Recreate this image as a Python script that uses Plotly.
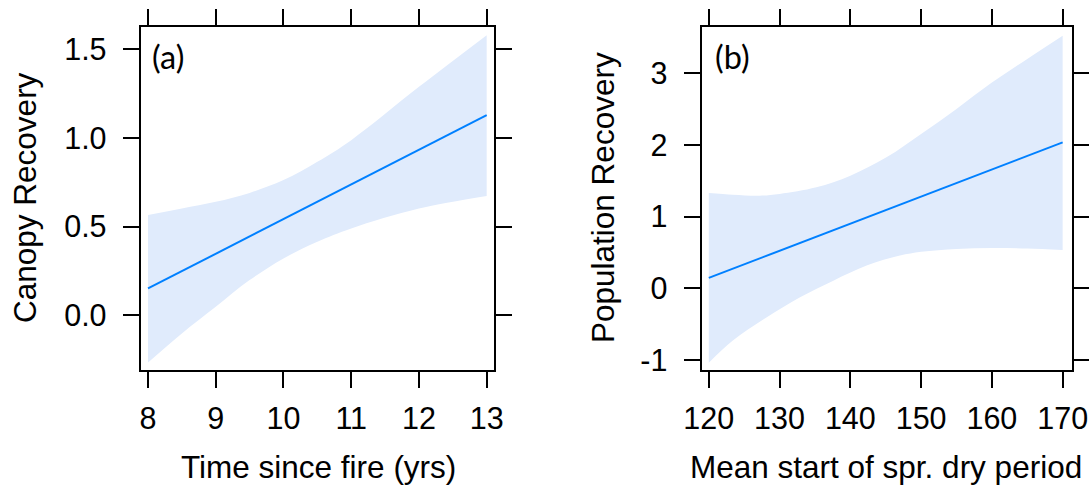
import plotly.graph_objects as go

# Panel (a): Canopy Recovery vs Time since fire
xa = [8, 8.5, 9, 9.5, 10, 10.5, 11, 12, 13]
a_upper = [0.565, 0.602, 0.640, 0.690, 0.762, 0.865, 0.987, 1.287, 1.578]
a_lower = [-0.265, -0.101, 0.049, 0.199, 0.321, 0.415, 0.490, 0.602, 0.673]
xa_fit = [8, 13]
a_fit = [0.152, 1.128]

# Panel (b): Population Recovery vs Mean start of spr. dry period
xb_up = [120, 123.4, 127.2, 130, 135.2, 140, 145.1, 150, 155, 160, 165, 170]
b_upper = [1.330, 1.307, 1.293, 1.316, 1.409, 1.572, 1.827, 2.153, 2.502, 2.870, 3.200, 3.524]
xb_lo = [120, 123.4, 128.2, 132.9, 137.6, 142.3, 147, 150, 155, 160, 165, 170]
b_lower = [-1.040, -0.730, -0.404, -0.125, 0.107, 0.317, 0.456, 0.510, 0.550, 0.563, 0.555, 0.536]
xb_fit = [120, 170]
b_fit = [0.145, 2.036]

xticks_a = [8, 9, 10, 11, 12, 13]
yticks_a = [0.0, 0.5, 1.0, 1.5]
yticklabels_a = ["0.0", "0.5", "1.0", "1.5"]
xticks_b = [120, 130, 140, 150, 160, 170]
yticks_b = [-1, 0, 1, 2, 3]
yticklabels_b = ["-1", "0", "1", "2", "3"]

BAND = "rgb(224,235,252)"
LINE = "#0080ff"

fig = go.Figure()

def add_panel(xu, up, xl, lo, xf, fit, xref, yref):
    fig.add_trace(go.Scatter(x=xu, y=up, mode="lines", line=dict(width=0, shape="spline"),
                             hoverinfo="skip", showlegend=False, xaxis=xref, yaxis=yref))
    fig.add_trace(go.Scatter(x=xl, y=lo, mode="lines", line=dict(width=0, shape="spline"),
                             fill="tonexty", fillcolor=BAND, hoverinfo="skip",
                             showlegend=False, xaxis=xref, yaxis=yref))
    fig.add_trace(go.Scatter(x=xf, y=fit, mode="lines", line=dict(color=LINE, width=2),
                             showlegend=False, xaxis=xref, yaxis=yref))

add_panel(xa, a_upper, xa, a_lower, xa_fit, a_fit, "x", "y")
add_panel(xb_up, b_upper, xb_lo, b_lower, xb_fit, b_fit, "x2", "y2")

W, H = 1089, 485
ytop, ybot = 27, 370

common = dict(showline=True, linewidth=2, linecolor="black", mirror="ticks",
              ticks="outside", ticklen=16, tickwidth=2, tickcolor="black",
              showgrid=False, zeroline=False, automargin=False,
              tickfont=dict(family="Liberation Sans, Arial", size=30.5, color="black"))

fig.update_layout(
    template="none",
    width=W, height=H,
    margin=dict(l=0, r=0, t=0, b=0, pad=0),
    paper_bgcolor="white", plot_bgcolor="white",
    xaxis=dict(domain=[140.7/W, 494/W], range=[7.892, 13.108], tickvals=xticks_a,
               anchor="y", ticklabelstandoff=4, **common),
    yaxis=dict(domain=[1 - ybot/H, 1 - ytop/H], range=[-0.307, 1.624], tickvals=yticks_a,
               ticktext=yticklabels_a, anchor="x", ticklabelstandoff=10, **common),
    xaxis2=dict(domain=[701.5/W, 1071.5/W], range=[118.97, 171.25], tickvals=xticks_b,
                anchor="y2", ticklabelstandoff=4, **common),
    yaxis2=dict(domain=[1 - ybot/H, 1 - ytop/H], range=[-1.14, 3.646], tickvals=yticks_b,
                ticktext=yticklabels_b, anchor="x2", ticklabelstandoff=10, **common),
)

tfont = dict(family="Liberation Sans, Arial", size=31.5, color="black")
pfont = dict(family="Lato, Carlito, sans-serif", size=32.5, color="black")
annots = [
    dict(text="Time since fire (yrs)", x=318/W, y=1 - 467/H, xref="paper", yref="paper",
         xanchor="center", yanchor="middle", showarrow=False, font=tfont),
    dict(text="Mean start of spr. dry period", x=886/W, y=1 - 467/H, xref="paper", yref="paper",
         xanchor="center", yanchor="middle", showarrow=False, font=tfont),
    dict(text="Canopy Recovery", x=25/W, y=1 - 198/H, xref="paper", yref="paper",
         xanchor="center", yanchor="middle", textangle=-90, showarrow=False, font=tfont),
    dict(text="Population Recovery", x=603/W, y=1 - 198/H, xref="paper", yref="paper",
         xanchor="center", yanchor="middle", textangle=-90, showarrow=False, font=tfont),
    dict(text="(a)", x=150/W, y=1 - 56/H, xref="paper", yref="paper",
         xanchor="left", yanchor="middle", showarrow=False, font=pfont),
    dict(text="(b)", x=713/W, y=1 - 56/H, xref="paper", yref="paper",
         xanchor="left", yanchor="middle", showarrow=False, font=pfont),
]
fig.update_layout(annotations=annots)

fig.write_html("out.html")
